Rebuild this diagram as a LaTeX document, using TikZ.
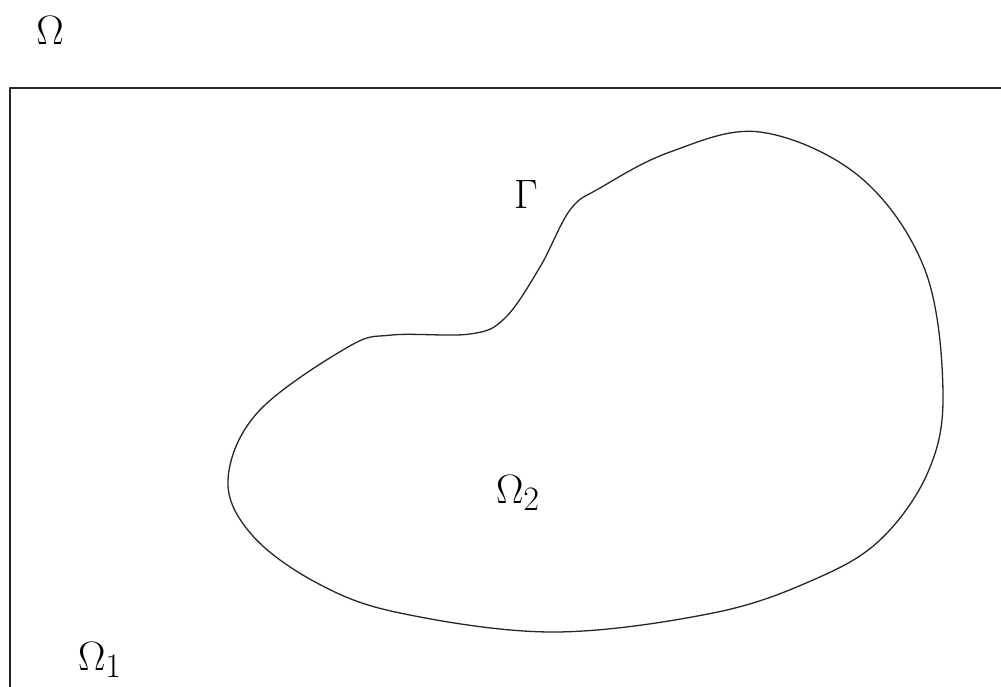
\documentclass[tikz,border=0pt]{standalone}
\usepackage{amsmath}
\usepackage{tikz}

\begin{document}
\begin{tikzpicture}[
  x=1pt, y=-1pt,
  line cap=round,
  line join=round,
  every node/.style={font=\Huge, scale=1.65},
  boundary/.style={line width=1.3pt, black!85}
]
  \useasboundingbox (0,0) rectangle (1001,686);
  \clip (0,0) rectangle (1001,686);

  % Points on the interface Gamma
  \coordinate (g1)  at (570,210);
  \coordinate (g2)  at (600,188);
  \coordinate (g3)  at (670,152);
  \coordinate (g4)  at (760,132);
  \coordinate (g5)  at (860,177);
  \coordinate (g6)  at (925,270);
  \coordinate (g7)  at (943,393);
  \coordinate (g8)  at (928,472);
  \coordinate (g9)  at (880,540);
  \coordinate (g10) at (813,580);
  \coordinate (g11) at (713,613);
  \coordinate (g12) at (553,632);
  \coordinate (g13) at (400,613);
  \coordinate (g14) at (317,583);
  \coordinate (g15) at (252,535);
  \coordinate (g16) at (228,480);
  \coordinate (g17) at (258,412);
  \coordinate (g18) at (348,347);
  \coordinate (g19) at (392,335);
  \coordinate (g20) at (470,334);
  \coordinate (g21) at (505,318);
  \coordinate (g22) at (540,267);

  % Outer domain (box runs off the page)
  \draw[boundary] (10,88) rectangle (1020,720);

  % Interface
  \draw[boundary] plot[smooth cycle, tension=0.6] coordinates {
    (g1) (g2) (g3) (g4) (g5) (g6) (g7) (g8) (g9) (g10) (g11)
    (g12) (g13) (g14) (g15) (g16) (g17) (g18) (g19) (g20) (g21) (g22)};

  % Labels
  \node (omega)    at (50,30)   {$\Omega$};
  \node (gamma)    at (526,194) {$\Gamma$};
  \node (omegatwo) at (518,493) {$\Omega_2$};
  \node (omegaone) at (100,660) {$\Omega_1$};
\end{tikzpicture}
\end{document}
